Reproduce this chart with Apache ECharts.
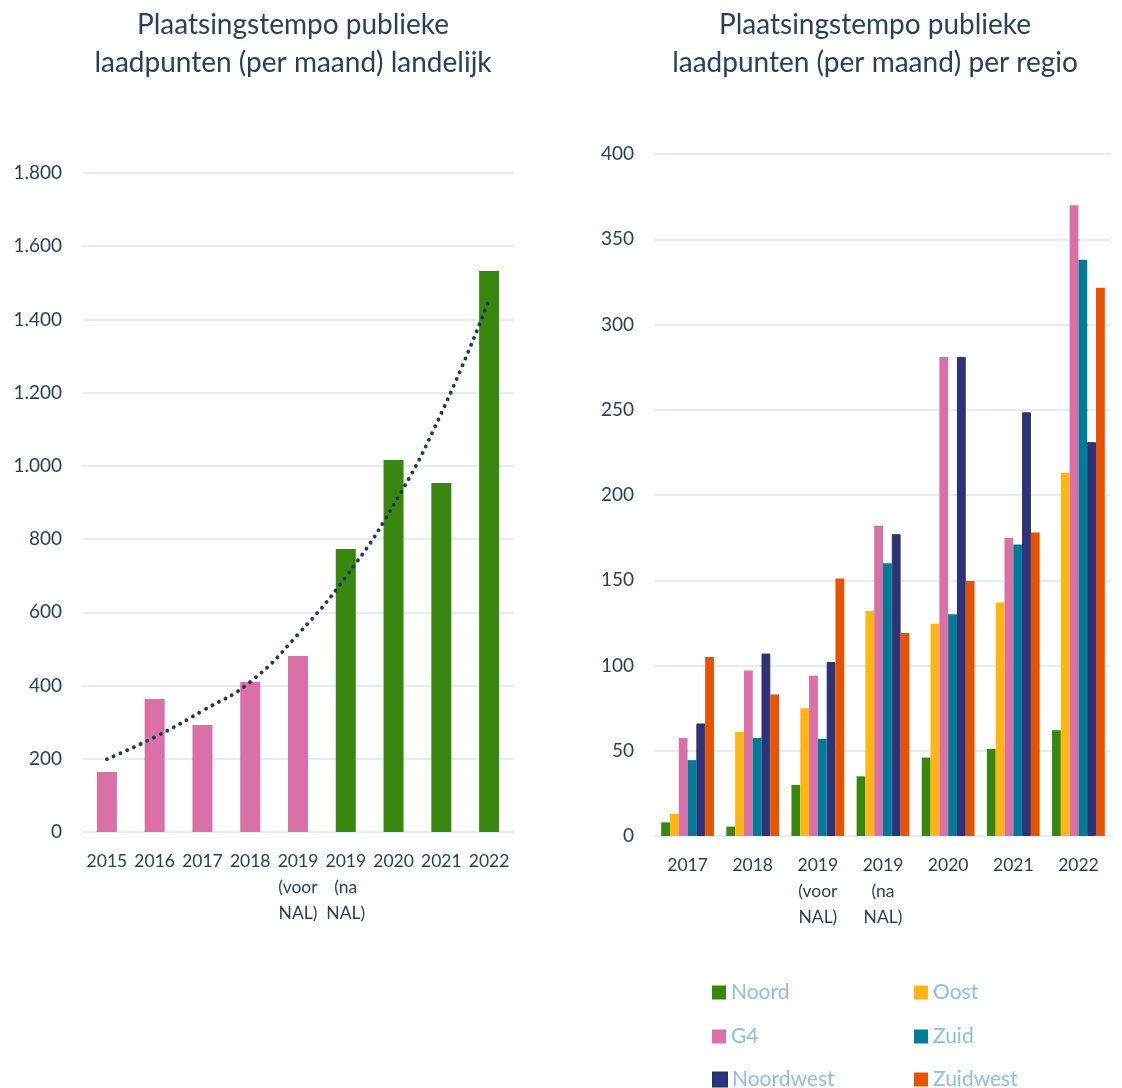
<!DOCTYPE html>
<html>
<head>
<meta charset="utf-8">
<script src="https://cdn.jsdelivr.net/npm/echarts@6/dist/echarts.min.js"></script>
<style>
html,body{margin:0;padding:0;background:#fff;}
#c{width:1122px;height:1088px;}
</style>
</head>
<body>
<div id="c"></div>
<script>
// ---- Data: left chart (landelijk) ----
const natCategories = ['2015', '2016', '2017', '2018', '2019\n(voor\nNAL)', '2019\n(na\nNAL)', '2020', '2021', '2022'];
const natValues = [164, 363, 292, 410, 481, 773, 1016, 953, 1532];
const natPhase = ['voor', 'voor', 'voor', 'voor', 'voor', 'na', 'na', 'na', 'na'];
const natTrend = [199, 259, 331, 410, 540, 697, 893, 1144, 1454];

// ---- Data: right chart (per regio) ----
const regCategories = ['2017', '2018', '2019\n(voor\nNAL)', '2019\n(na\nNAL)', '2020', '2021', '2022'];
const regionNames = ['Noord', 'Oost', 'G4', 'Zuid', 'Noordwest', 'Zuidwest'];
const noord = [8, 5.5, 30, 35, 46, 51, 62];
const oost = [13, 61, 75, 132, 124.5, 137, 213];
const g4 = [57.5, 97, 94, 182, 281, 175, 370];
const zuid = [44.5, 57.5, 57, 160, 130, 171, 338];
const noordwest = [66, 107, 102, 177, 281, 248.5, 231];
const zuidwest = [105, 83, 151, 119, 149.5, 178, 321.5];

const FONT = 'Lato, "Noto Sans", sans-serif';
const TEXT = '#283F5E';
const GRID = '#E2EDF7';
const phaseColor = { voor: '#DA70A8', na: '#3A870F' };
const regionColors = ['#3A870F', '#FFB612', '#DA70A8', '#007B99', '#2E317C', '#E85200'];
const regionData = [noord, oost, g4, zuid, noordwest, zuidwest];

const chart = echarts.init(document.getElementById('c'));

const fmtNL = v => String(v).replace(/\B(?=(\d{3})+(?!\d))/g, '.');

const axisLabelX = { color: TEXT, fontSize: 17.5, fontFamily: FONT, lineHeight: 26, margin: 16, interval: 0 };
const axisLabelY = { color: TEXT, fontSize: 19, fontFamily: FONT, margin: 21 };

// legend: 2 columns x 3 rows, one legend component per item
const legendCols = [712, 914];
const legendRows = [982, 1026, 1069];
const legends = regionNames.map((name, i) => ({
  data: [name],
  left: legendCols[i % 2], top: legendRows[Math.floor(i / 2)],
  itemWidth: 14, itemHeight: 14, itemTextGap: 6, icon: 'rect', padding: 0,
  textStyle: { color: '#8DBFE5', fontSize: 21, fontFamily: FONT, lineHeight: 20 }
}));

const titleStyle = { color: TEXT, fontSize: 28, fontWeight: 'normal', fontFamily: FONT, lineHeight: 38 };

chart.setOption({
  animation: false,
  backgroundColor: '#fff',
  title: [
    {
      text: 'Plaatsingstempo publieke\nlaadpunten (per maand) landelijk',
      left: 288, top: 1, textAlign: 'center', textStyle: titleStyle
    },
    {
      text: 'Plaatsingstempo publieke\nlaadpunten (per maand) per regio',
      left: 870, top: 1, textAlign: 'center', textStyle: titleStyle
    }
  ],
  legend: legends,
  grid: [
    { left: 83, width: 430, top: 173, height: 659 },
    { left: 655, width: 456, top: 154, height: 682 }
  ],
  xAxis: [
    {
      gridIndex: 0, type: 'category', data: natCategories,
      axisLine: { lineStyle: { color: GRID, width: 2 } },
      axisTick: { show: false },
      axisLabel: axisLabelX
    },
    {
      gridIndex: 1, type: 'category', data: regCategories,
      axisLine: { lineStyle: { color: GRID, width: 2 } },
      axisTick: { show: false },
      axisLabel: axisLabelX
    }
  ],
  yAxis: [
    {
      gridIndex: 0, type: 'value', min: 0, max: 1800, interval: 200,
      axisLine: { show: false }, axisTick: { show: false },
      splitLine: { lineStyle: { color: GRID, width: 2 } },
      axisLabel: Object.assign({}, axisLabelY, { formatter: fmtNL })
    },
    {
      gridIndex: 1, type: 'value', min: 0, max: 400, interval: 50,
      axisLine: { show: false }, axisTick: { show: false },
      splitLine: { lineStyle: { color: GRID, width: 2 } },
      axisLabel: axisLabelY
    }
  ],
  series: [
    {
      type: 'bar', xAxisIndex: 0, yAxisIndex: 0, barWidth: 20,
      data: natValues.map((v, i) => ({ value: v, itemStyle: { color: phaseColor[natPhase[i]] } })),
      z: 2
    },
    {
      type: 'line', xAxisIndex: 0, yAxisIndex: 0, data: natTrend,
      smooth: 0.5, symbol: 'none',
      lineStyle: { color: '#233554', width: 3.8, type: [0.1, 7.3], cap: 'round' },
      z: 3
    }
  ].concat(regionNames.map((name, i) => ({
    name: name, type: 'bar', xAxisIndex: 1, yAxisIndex: 1,
    data: regionData[i],
    barGap: '0%', barCategoryGap: '19%',
    itemStyle: { color: regionColors[i], borderColor: i === 4 ? '#27375E' : regionColors[i], borderWidth: i === 4 ? 1 : 0 }
  })))
});
</script>
</body>
</html>
